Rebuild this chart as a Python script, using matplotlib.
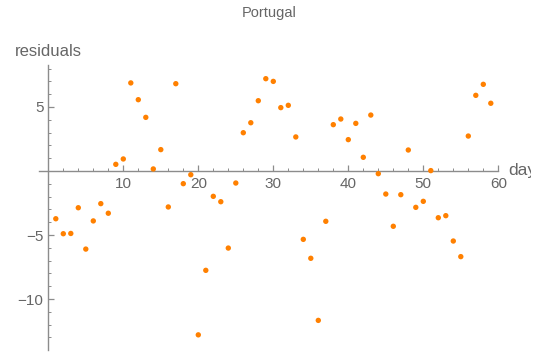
import matplotlib
matplotlib.use("Agg")
import matplotlib.pyplot as plt
from matplotlib.ticker import MultipleLocator
from matplotlib.patches import Rectangle

plt.rcParams['font.family'] = ['Liberation Sans', 'DejaVu Sans']

# data
days = list(range(1, 60))
residuals = [
    -3.73, -4.9, -4.88, -2.87, -6.1, -3.9, -2.55, -3.3, 0.52, 0.94,
    6.88, 5.57, 4.19, 0.16, 1.67, -2.81, 6.82, -0.99, -0.29, -12.8,
    -7.76, -1.98, -2.4, -6.02, -0.94, 2.99, 3.77, 5.49, 7.21, 7.0,
    4.95, 5.13, 2.66, -5.34, -6.82, -11.67, -3.93, 3.62, 4.06, 2.45,
    3.72, 1.07, 4.37, -0.21, -1.8, -4.32, -1.85, 1.64, -2.84, -2.37,
    0.03, -3.65, -3.49, -5.47, -6.69, 2.73, 5.91, 6.77, 5.29,
]
x_ticks = [10, 20, 30, 40, 50, 60]
y_ticks = [-10, -5, 5]

W, H = 546, 354
fig = plt.figure(figsize=(W / 100, H / 100), dpi=100)
ax = fig.add_axes([39.3 / W, (H - 349.7) / H, 459 / W, 284.7 / H])

axis_col = '#8c8c8c'
text_col = '#666666'

ax.scatter(days, residuals, s=15, color='#ff8000', edgecolors='none', zorder=3, clip_on=False)

ax.set_xlim(-1.2, 60.0)
ax.set_ylim(-13.96, 8.28)

# axes cross at the origin
ax.spines['left'].set_position(('data', 0))
ax.spines['bottom'].set_position(('data', 0))
ax.spines['top'].set_visible(False)
ax.spines['right'].set_visible(False)
for sp in ('left', 'bottom'):
    ax.spines[sp].set_color(axis_col)
    ax.spines[sp].set_linewidth(1.0)

ax.set_xticks(x_ticks)
ax.set_yticks(y_ticks)
ax.xaxis.set_minor_locator(MultipleLocator(2))
ax.yaxis.set_minor_locator(MultipleLocator(1))
ax.tick_params(which='both', direction='in', color=axis_col, labelcolor=text_col, labelsize=11)
ax.tick_params(which='major', length=4, width=0.9)
ax.tick_params(which='minor', length=2.2, width=0.7)
ax.tick_params(axis='x', pad=4)
ax.tick_params(axis='y', pad=3.5)
ax.patch.set_visible(False)

# x label sits right of the axis end and is cut off, as in the original
day_lbl = ax.text(1.0 + 9.7 / 459, 0, 'day', transform=ax.get_yaxis_transform(),
                  fontsize=12.5, color=text_col, ha='left', va='center')
day_lbl.set_clip_path(Rectangle((0, 0), 531 / W, 1, transform=fig.transFigure))
day_lbl.set_clip_on(True)

fig.text(15 / W, (H - 56) / H, 'residuals', fontsize=12, color=text_col,
         ha='left', va='baseline')
fig.text(269 / W, 1 - 12.5 / H, 'Portugal', fontsize=10.5, color=text_col,
         ha='center', va='center')

fig.savefig('out.png', dpi=100)
